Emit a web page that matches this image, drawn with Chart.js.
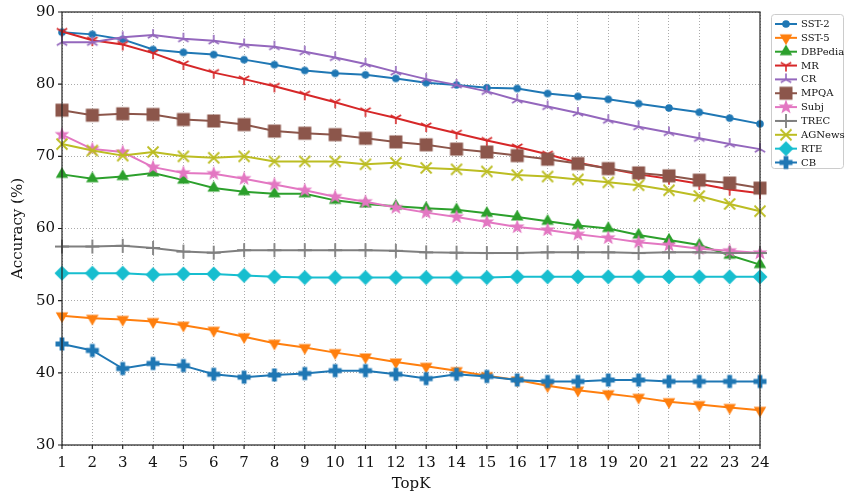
<!DOCTYPE html>
<html>
<head>
<meta charset="utf-8">
<script src="https://cdn.jsdelivr.net/npm/chart.js@4/dist/chart.umd.min.js"></script>
<style>
  html, body { margin: 0; padding: 0; background: #fff; }
  #wrap { width: 847px; height: 497px; }
</style>
</head>
<body>
<div id="wrap"><canvas id="c" width="847" height="497"></canvas></div>
<script>
// x values (TopK)
const topK = ['1','2','3','4','5','6','7','8','9','10','11','12','13','14','15','16','17','18','19','20','21','22','23','24']
const yTicks = [30, 40, 50, 60, 70, 80, 90]

// accuracy per dataset
const sst2 = [87.2,86.9,86.2,84.8,84.4,84.1,83.4,82.7,81.9,81.5,81.3,80.8,80.2,79.9,79.5,79.4,78.7,78.3,77.9,77.3,76.7,76.1,75.3,74.5]
const sst5 = [47.9,47.55,47.4,47.1,46.6,45.9,45.0,44.1,43.5,42.8,42.2,41.5,40.9,40.3,39.6,39.0,38.2,37.6,37.1,36.6,36.0,35.6,35.2,34.8]
const dbpedia = [67.5,66.9,67.2,67.7,66.7,65.6,65.1,64.8,64.8,63.9,63.4,63.1,62.8,62.6,62.1,61.6,61.0,60.4,60.0,59.1,58.4,57.7,56.3,55.0]
const mr = [87.3,86.1,85.5,84.3,82.8,81.6,80.7,79.7,78.6,77.5,76.3,75.3,74.2,73.2,72.2,71.3,70.3,69.1,68.3,67.5,66.9,66.2,65.4,64.9]
const cr = [85.8,85.8,86.5,86.8,86.3,86.0,85.5,85.2,84.5,83.7,82.8,81.7,80.7,79.9,79.0,77.8,76.9,76.0,75.0,74.1,73.3,72.5,71.7,71.0]
const mpqa = [76.4,75.7,75.9,75.8,75.1,74.9,74.4,73.5,73.2,73.0,72.5,72.0,71.6,71.0,70.6,70.1,69.6,69.0,68.3,67.7,67.3,66.7,66.3,65.6]
const subj = [73.0,71.0,70.6,68.5,67.7,67.6,66.9,66.1,65.3,64.4,63.7,62.9,62.2,61.6,60.9,60.2,59.8,59.2,58.7,58.1,57.7,57.2,56.9,56.6]
const trec = [57.5,57.5,57.6,57.3,56.8,56.65,57.0,57.0,57.0,57.0,57.0,56.9,56.7,56.65,56.6,56.6,56.7,56.7,56.7,56.6,56.7,56.7,56.6,56.6]
const agnews = [71.7,70.8,70.1,70.6,70.0,69.8,70.0,69.3,69.3,69.3,68.9,69.1,68.4,68.2,67.9,67.4,67.2,66.8,66.4,66.0,65.3,64.5,63.4,62.4]
const rte = [53.8,53.8,53.8,53.6,53.7,53.7,53.5,53.3,53.2,53.2,53.2,53.2,53.2,53.2,53.2,53.3,53.3,53.3,53.3,53.3,53.3,53.3,53.3,53.3]
const cb = [44.0,43.1,40.6,41.3,41.0,39.8,39.4,39.7,39.9,40.3,40.3,39.8,39.2,39.8,39.5,39.0,38.8,38.8,39.0,39.0,38.8,38.8,38.8,38.8]

const FONT = "'DejaVu Serif', serif"

// little sprites for the matplotlib-like markers
function marker(kind, color){
    const S = 18, c = document.createElement('canvas')
    c.width = S; c.height = S
    const g = c.getContext('2d'), m = S / 2
    g.fillStyle = color; g.strokeStyle = color; g.lineWidth = 1.6; g.lineCap = 'butt'
    g.beginPath()
    if (kind == 'o') {
        g.arc(m, m, 3.8, 0, Math.PI * 2); g.fill()
    } else if (kind == 'v' || kind == '^') {
        const s = kind == 'v' ? 1 : -1, r = 7.2
        g.moveTo(m, m + s * r)
        g.lineTo(m - r * 0.87, m - s * r * 0.5)
        g.lineTo(m + r * 0.87, m - s * r * 0.5)
        g.closePath(); g.fill()
    } else if (kind == '1' || kind == '2') {
        const s = kind == '1' ? 1 : -1, r = 6
        g.moveTo(m, m); g.lineTo(m, m + s * r)
        g.moveTo(m, m); g.lineTo(m - r * 0.87, m - s * r * 0.5)
        g.moveTo(m, m); g.lineTo(m + r * 0.87, m - s * r * 0.5)
        g.stroke()
    } else if (kind == 's') {
        g.fillRect(m - 6.5, m - 6.5, 13, 13)
    } else if (kind == '*') {
        const R = 7.8, r = 3.2
        for (let i = 0; i < 10; i++) {
            const a = -Math.PI / 2 + i * Math.PI / 5, rr = i % 2 ? r : R
            const px = m + rr * Math.cos(a), py = m + rr * Math.sin(a)
            i ? g.lineTo(px, py) : g.moveTo(px, py)
        }
        g.closePath(); g.fill()
    } else if (kind == '+') {
        g.lineWidth = 1.8
        g.moveTo(m - 7, m); g.lineTo(m + 7, m)
        g.moveTo(m, m - 7); g.lineTo(m, m + 7)
        g.stroke()
    } else if (kind == 'x') {
        g.lineWidth = 1.8
        g.moveTo(m - 5.5, m - 5.5); g.lineTo(m + 5.5, m + 5.5)
        g.moveTo(m - 5.5, m + 5.5); g.lineTo(m + 5.5, m - 5.5)
        g.stroke()
    } else if (kind == 'D') {
        g.moveTo(m, m - 7.5); g.lineTo(m + 7.5, m); g.lineTo(m, m + 7.5); g.lineTo(m - 7.5, m)
        g.closePath(); g.fill()
    } else if (kind == 'P') {
        const a = 6.5, b = 2.4
        g.moveTo(m - b, m - a); g.lineTo(m + b, m - a); g.lineTo(m + b, m - b); g.lineTo(m + a, m - b)
        g.lineTo(m + a, m + b); g.lineTo(m + b, m + b); g.lineTo(m + b, m + a); g.lineTo(m - b, m + a)
        g.lineTo(m - b, m + b); g.lineTo(m - a, m + b); g.lineTo(m - a, m - b); g.lineTo(m - b, m - b)
        g.closePath(); g.fill()
    }
    return c
}

const series = [
    ['SST-2', sst2, '#1f77b4', 'o'],
    ['SST-5', sst5, '#ff7f0e', 'v'],
    ['DBPedia', dbpedia, '#2ca02c', '^'],
    ['MR', mr, '#d62728', '1'],
    ['CR', cr, '#9467bd', '2'],
    ['MPQA', mpqa, '#8c564b', 's'],
    ['Subj', subj, '#e377c2', '*'],
    ['TREC', trec, '#7f7f7f', '+'],
    ['AGNews', agnews, '#bcbd22', 'x'],
    ['RTE', rte, '#17becf', 'D'],
    ['CB', cb, '#1f77b4', 'P']
]

const datasets = series.map((s, i) => ({
    label: s[0],
    data: s[1],
    borderColor: s[2],
    backgroundColor: s[2],
    borderWidth: 2,
    pointStyle: marker(s[3], s[2]),
    pointRadius: 6,
    pointHoverRadius: 6,
    tension: 0,
    order: series.length - i
}))

// frame + outward tick marks like matplotlib
const framePlugin = {
    id: 'frame',
    afterDraw(chart){
        const ctx = chart.ctx, a = chart.chartArea
        const xs = chart.scales.x, ys = chart.scales.y
        ctx.save()
        ctx.strokeStyle = '#222'; ctx.lineWidth = 1.2
        ctx.strokeRect(a.left, a.top, a.right - a.left, a.bottom - a.top)
        ctx.beginPath()
        topK.forEach((k, i) => {
            const x = xs.getPixelForValue(i)
            ctx.moveTo(x, a.bottom); ctx.lineTo(x, a.bottom + 4)
        })
        yTicks.forEach(v => {
            const y = ys.getPixelForValue(v)
            ctx.moveTo(a.left - 4, y); ctx.lineTo(a.left, y)
        })
        ctx.stroke()
        ctx.restore()
    }
}

// boxed legend in the top right corner
const legendPlugin = {
    id: 'boxLegend',
    afterDraw(chart){
        const ctx = chart.ctx
        const bx = 771, by = 14, bw = 72, bh = 154
        ctx.save()
        ctx.fillStyle = 'rgba(255,255,255,0.85)'
        ctx.strokeStyle = '#cccccc'; ctx.lineWidth = 1
        ctx.beginPath()
        ctx.roundRect(bx + 0.5, by + 0.5, bw, bh, 3)
        ctx.fill(); ctx.stroke()
        ctx.font = '10px ' + FONT
        ctx.textBaseline = 'middle'
        chart.data.datasets.forEach((d, i) => {
            const y = by + 10 + i * 13.85
            ctx.strokeStyle = d.borderColor; ctx.lineWidth = 2
            ctx.beginPath(); ctx.moveTo(775, y); ctx.lineTo(797, y); ctx.stroke()
            const img = d.pointStyle
            ctx.drawImage(img, 786 - img.width / 2, y - img.height / 2)
            ctx.fillStyle = '#111'
            ctx.fillText(d.label, 801, y + 0.5)
        })
        ctx.restore()
    }
}

new Chart(document.getElementById('c'), {
    type: 'line',
    data: { labels: topK, datasets: datasets },
    options: {
        responsive: false,
        animation: false,
        devicePixelRatio: 1,
        layout: { padding: { top: 12, right: 87, left: 0, bottom: 0 } },
        plugins: { legend: { display: false }, tooltip: { enabled: false } },
        scales: {
            x: {
                type: 'category',
                offset: false,
                grid: { color: '#aaaaaa', lineWidth: 1, drawTicks: false },
                border: { display: false, dash: [1, 2] },
                ticks: { color: '#111', font: { family: FONT, size: 15 }, padding: 9, maxRotation: 0, autoSkip: false },
                title: { display: true, text: 'TopK', color: '#111', font: { family: FONT, size: 15 }, padding: { top: 2, bottom: 4 } },
                afterFit(s){ s.height = 52; s.paddingLeft = 0; s.paddingRight = 0 }
            },
            y: {
                min: 30, max: 90,
                grid: { color: '#aaaaaa', lineWidth: 1, drawTicks: false },
                border: { display: false, dash: [1, 2] },
                ticks: { stepSize: 10, color: '#111', font: { family: FONT, size: 15 }, padding: 7 },
                title: { display: true, text: 'Accuracy (%)', color: '#111', font: { family: FONT, size: 15 }, padding: { top: 9, bottom: 4 } },
                afterFit(s){ s.width = 62; s.paddingTop = 0; s.paddingBottom = 0 }
            }
        }
    },
    plugins: [framePlugin, legendPlugin]
})
</script>
</body>
</html>
